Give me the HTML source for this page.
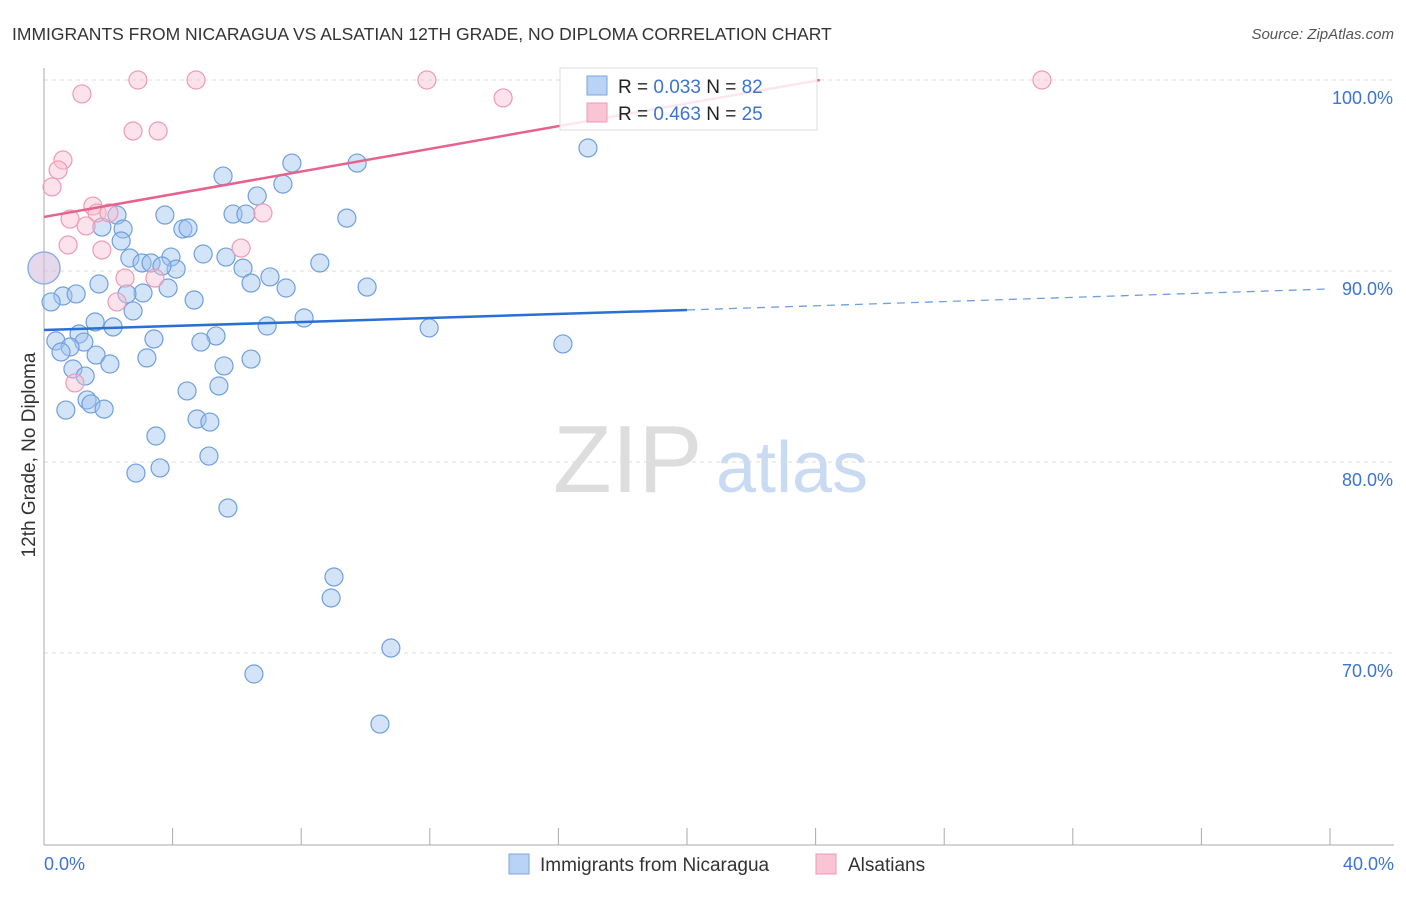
<!DOCTYPE html>
<html><head><meta charset="utf-8"><style>
body{margin:0;background:#fff;font-family:"Liberation Sans",sans-serif;}
svg text{font-family:"Liberation Sans",sans-serif;}
</style></head><body>
<svg width="1406" height="892" viewBox="0 0 1406 892" id="chart">
<text x="12" y="40" font-size="17.5" fill="#333">IMMIGRANTS FROM NICARAGUA VS ALSATIAN 12TH GRADE, NO DIPLOMA CORRELATION CHART</text>
<text x="1394" y="39" font-size="15" fill="#555" font-style="italic" text-anchor="end">Source: ZipAtlas.com</text>
<g>
<text x="553" y="492" font-size="96" fill="#ddd" font-family="Liberation Serif">ZIP</text>
<text x="716" y="492" font-size="72" fill="#c9daf3">atlas</text>
</g>
<g id="grid"></g>
<g id="axes"></g>
<g id="marks"></g>
<g id="trends"></g>
<g>
<rect x="560" y="68" width="257" height="62" fill="#fff" fill-opacity="0.85" stroke="#ddd"/>
<rect x="587" y="76" width="20" height="19" fill="#b8d3f5" stroke="#7aa6e0"/>
<rect x="587" y="103" width="20" height="19" fill="#f9c4d4" stroke="#ee9ab4"/>
<text x="618" y="93" font-size="19" fill="#222">R = <tspan fill="#3b74d1">0.033</tspan>   N = <tspan fill="#3b74d1">82</tspan></text>
<text x="618" y="120" font-size="19" fill="#222">R = <tspan fill="#3b74d1">0.463</tspan>   N = <tspan fill="#3b74d1">25</tspan></text>
</g>
<g>
<rect x="509" y="854" width="20" height="20" fill="#b8d3f5" stroke="#7aa6e0"/>
<text x="540" y="871" font-size="19" fill="#333">Immigrants from Nicaragua</text>
<rect x="816" y="854" width="20" height="20" fill="#f9c4d4" stroke="#ee9ab4"/>
<text x="848" y="871" font-size="19" fill="#333">Alsatians</text>
</g>
<text transform="translate(35,455) rotate(-90)" font-size="19" fill="#333" text-anchor="middle">12th Grade, No Diploma</text>
</svg>
<script>
const yTicks=[100,90,80,70];
const yTickLabels=["100.0%","90.0%","80.0%","70.0%"];
const xEndLabels=["0.0%","40.0%"];
const blueX=[16.92,7.71,9.74,5.57,7.43,6.63,3.76,2.27,5.88,6.28,9.42,1.80,2.46,4.32,4.48,2.40,4.95,5.66,2.67,3.05,3.33,3.95,4.11,6.19,8.58,3.67,7.03,6.44,7.53,10.05,1.71,0.59,1.00,3.08,2.58,3.86,4.67,0.22,2.77,1.59,8.09,2.15,6.94,11.98,1.09,5.35,3.42,0.37,1.24,4.88,16.14,0.81,0.53,1.62,3.20,6.44,2.05,5.60,0.90,1.28,5.44,4.45,1.34,1.46,0.68,1.87,4.76,5.16,3.48,5.13,3.61,2.86,5.72,9.02,8.93,10.79,6.53,10.45];
const blueY=[96.44,95.65,95.65,94.97,94.55,93.93,92.93,92.93,92.98,92.98,92.77,92.30,92.20,92.20,92.25,91.57,90.89,90.73,90.68,90.42,90.42,90.73,90.10,90.15,90.42,90.26,89.69,89.37,89.11,89.16,89.32,88.69,88.80,88.85,88.80,89.11,88.48,88.38,87.91,87.33,87.54,87.07,87.12,87.02,86.70,86.60,86.44,86.34,86.28,86.28,86.18,86.02,85.76,85.60,85.45,85.39,85.13,85.03,84.87,84.50,83.98,83.72,83.25,83.04,82.72,82.77,82.25,82.09,81.36,80.31,79.69,79.42,77.59,73.98,72.88,70.26,68.90,66.28];
const pinkX=[1.18,2.92,4.73,11.91,31.04,14.28,2.77,3.55,0.59,0.44,0.25,1.52,0.81,1.65,2.02,6.81,1.31,0.75,1.80,6.13,2.52,3.45,2.27,0.96];
const pinkY=[99.27,100,100,100,100,99.06,97.33,97.33,95.81,95.29,94.40,93.40,92.72,93.04,93.04,93.04,92.36,91.36,91.10,91.20,89.63,89.63,88.38,84.14];
const bigPoint=[0,90.16];
const blueTrend=[[0,86.91],[20,87.96],[40,89.06]];
const pinkTrend=[[0,92.83],[24.13,100]];

const X0=44,X1=1330,YT=80,PX=(X1-X0)/40,PY=19.1;
const sx=v=>X0+v*PX, sy=v=>YT+(100-v)*PY;
const NS="http://www.w3.org/2000/svg";
function mk(tag,parent,attrs){const e=document.createElementNS(NS,tag);for(const k in attrs)e.setAttribute(k,attrs[k]);document.getElementById(parent).appendChild(e);return e;}
yTicks.forEach((t,i)=>{
 const l=mk('line','grid',{x1:X0,x2:1394,y1:sy(t),y2:sy(t),stroke:'#ddd','stroke-dasharray':'4,4'});
 
 
 const tx=mk('text','axes',{x:1393,y:sy(t)+24,'font-size':18,fill:'#3b74d1','text-anchor':'end'});
 tx.textContent=yTickLabels[i];
 
 
});
let a=mk('line','axes',{x1:X0,x2:X0,y1:68,y2:845,stroke:'#aaa'});

a=mk('line','axes',{x1:X0,x2:1394,y1:845,y2:845,stroke:'#aaa'});

for(let i=1;i<=10;i++){const t=mk('line','axes',{x1:sx(i*4),x2:sx(i*4),y1:828,y2:845,stroke:'#aaa'});
 }
[[0,'start',44],[40,'end',1394]].forEach((d,i)=>{const t=mk('text','axes',{x:d[2],y:870,'font-size':18,fill:'#3b74d1','text-anchor':d[1]});t.textContent=xEndLabels[i];
 });
blueX.forEach((v,i)=>{const c=mk('circle','marks',{cx:sx(v),cy:sy(blueY[i]),r:9,fill:'rgba(160,195,240,0.45)',stroke:'#6f9fe0','stroke-width':1.2});
 });
pinkX.forEach((v,i)=>{const c=mk('circle','marks',{cx:sx(v),cy:sy(pinkY[i]),r:9,fill:'rgba(248,190,208,0.45)',stroke:'#ee9ab4','stroke-width':1.2});
 });
let b=mk('circle','marks',{cx:sx(bigPoint[0]),cy:sy(bigPoint[1]),r:16,fill:'rgba(210,190,220,0.6)',stroke:'#8fb0e6','stroke-width':1.5});

let l=mk('line','trends',{x1:sx(blueTrend[0][0]),y1:sy(blueTrend[0][1]),x2:sx(blueTrend[1][0]),y2:sy(blueTrend[1][1]),stroke:'#2a6fd6','stroke-width':2.5});

l=mk('line','trends',{x1:sx(blueTrend[1][0]),y1:sy(blueTrend[1][1]),x2:sx(blueTrend[2][0]),y2:sy(blueTrend[2][1]),stroke:'#6f9fe0','stroke-width':1.3,'stroke-dasharray':'8,6'});

l=mk('line','trends',{x1:sx(pinkTrend[0][0]),y1:sy(pinkTrend[0][1]),x2:sx(pinkTrend[1][0]),y2:sy(pinkTrend[1][1]),stroke:'#e8608c','stroke-width':2.5});

</script>
</body></html>
